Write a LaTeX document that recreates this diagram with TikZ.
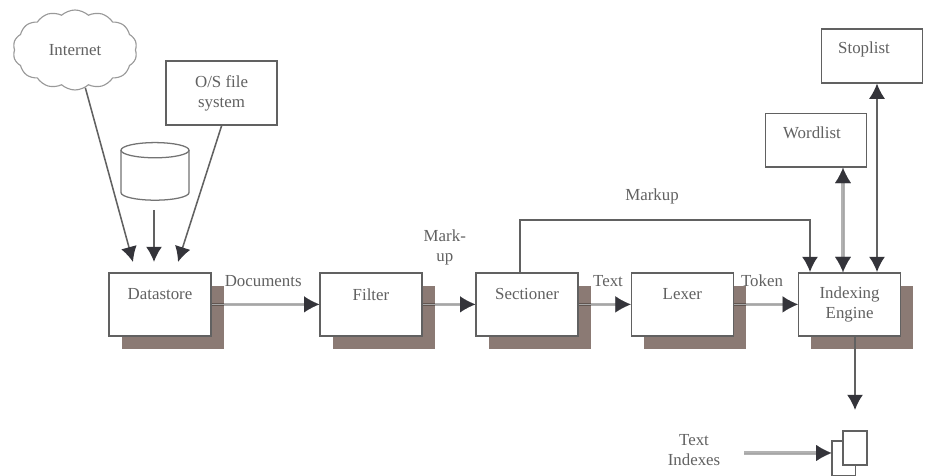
\documentclass[tikz,border=0pt]{standalone}
\usepackage{fontspec}
\setmainfont{Liberation Serif}
\usetikzlibrary{arrows.meta, shapes.symbols, shadows}
\definecolor{shadowbrown}{HTML}{8B7A74}
\definecolor{tipdark}{HTML}{34343A}
\tikzset{
  every node/.style={text=black!62, font=\fontsize{12}{14.2}\selectfont, align=center},
  bigtip/.tip={Latex[length=.38cm,width=.4cm,color=tipdark]},
  plainbox/.style={draw=black!62, line width=1.1pt, fill=white, rectangle, inner sep=0pt},
  stagebox/.style={plainbox, minimum width=2.55cm, minimum height=1.58cm,
    general shadow={fill=shadowbrown, shadow xshift=.32cm, shadow yshift=-.32cm}},
  listbox/.style={plainbox, minimum width=2.52cm, minimum height=1.34cm},
  storeline/.style={draw=black!55, line width=.9pt, fill=white},
  thinlink/.style={draw=black!62, line width=1.1pt, -bigtip},
  thicklink/.style={draw=black, draw opacity=.3, line width=2.4pt, shorten >=.3cm,
    postaction={draw=black!35, draw opacity=1, line width=.05pt, shorten >=0pt, -bigtip}},
  twinlink/.style={draw=black, draw opacity=.3, line width=2.4pt, shorten >=.3cm, shorten <=.3cm,
    postaction={draw=black!35, draw opacity=1, line width=.05pt, shorten >=0pt, shorten <=0pt, bigtip-bigtip}},
}

\begin{document}
\begin{tikzpicture}
\useasboundingbox (0,0) rectangle (23.2,11.9);

\node[cloud, cloud puffs=14, cloud puff arc=85, aspect=1.6, draw=black!40, line width=.8pt, fill=white, minimum width=3.1cm, minimum height=2cm, inner sep=0pt] (internet) at (1.875,10.65) {Internet};
\node[plainbox, minimum width=2.78cm, minimum height=1.6cm] (ossys) at (5.54,9.575) {O/S file\\system};

% disk drawn by hand
\coordinate (store) at (3.875,7.575);
\coordinate (storefoot) at (3.85,6.65);
\draw[storeline] ([shift={(-.85,.57)}]store) -- ([shift={(-.85,-.49)}]store) arc[start angle=180, end angle=360, x radius=.85, y radius=.19] -- ([shift={(.85,.57)}]store);
\draw[storeline] ([yshift=.57cm]store) ellipse [x radius=.85, y radius=.19];

\node[listbox] (stoplist) at (21.8,10.5) {Stoplist\hspace*{.4cm}\\[-.1cm]~};
\node[listbox] (wordlist) at (20.4,8.39) {Wordlist\hspace*{.2cm}\\[-.1cm]~};

\node[stagebox] (datastore) at (4,4.29) {Datastore\\~};
\node[stagebox] (filter) at (9.275,4.29) {Filter\\~};
\node[stagebox] (sectioner) at (13.175,4.29) {Sectioner\\~};
\node[stagebox] (lexer) at (17.06,4.29) {Lexer\\~};
\node[stagebox] (engine) at (21.24,4.29) {Indexing\\Engine};

\node (documents) at (6.58,4.87) {Documents};
\node (markup) at (11.12,5.72) {Mark-\\up};
\node (textlabel) at (15.2,4.87) {Text};
\node (token) at (19.05,4.87) {Token};
\node (marklabel) at (16.3,6.98) {Markup};
\node (indexes) at (17.35,.65) {Text\\Indexes};

\node[plainbox, line width=.9pt, minimum width=.58cm, minimum height=.875cm] (docback) at (21.09,.4375) {};
\node[plainbox, line width=.9pt, minimum width=.6cm, minimum height=.85cm] (docfront) at (21.375,.7) {};

\coordinate (inA) at (3.325,5.35);
\coordinate (inB) at (3.85,5.35);
\coordinate (inC) at (4.45,5.35);
\coordinate (secfoot) at ([xshift=-.175cm]sectioner.north);
\coordinate (markfoot) at ([xshift=-.99cm]engine.north);
\coordinate (wordfoot) at ([xshift=-.165cm]engine.north);
\coordinate (stopfoot) at ([xshift=.685cm]engine.north);
\coordinate (markturn) at (markfoot |- 0,6.4);
\coordinate (enginetop) at ([xshift=.135cm]engine.south);
\coordinate (enginedown) at (enginetop |- 0,1.65);
\coordinate (indexstart) at (18.6,.575);

\draw[thinlink] (internet) -- (inA);
\draw[thinlink] (storefoot) -- (inB);
\draw[thinlink] (ossys.south) -- (inC);

\draw[thicklink] (datastore) -- (filter);
\draw[thicklink] (filter) -- (sectioner);
\draw[thicklink] (sectioner) -- (lexer);
\draw[thicklink] (lexer) -- (engine);

\draw[thinlink] (secfoot) |- (markturn) -- (markfoot);
\draw[twinlink] (wordfoot) -- (wordfoot |- wordlist.south);
\draw[thinlink, bigtip-bigtip] (stopfoot) -- (stopfoot |- stoplist.south);
\draw[thinlink] (enginetop) -- (enginedown);
\draw[thicklink] (indexstart) -- (indexstart -| docback.west);

\end{tikzpicture}
\end{document}
